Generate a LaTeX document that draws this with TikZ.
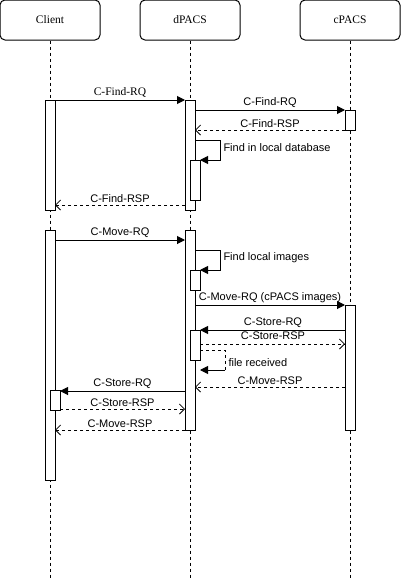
\documentclass[tikz,border=0pt]{standalone}
\usepackage{fontspec}
\setmainfont{Liberation Serif}
\setsansfont{Liberation Sans}
\usetikzlibrary{arrows.meta}
\begin{document}
\begin{tikzpicture}[x=1pt,y=-1pt,line width=1pt,
  actor/.style={draw,rounded corners=5pt,minimum width=100pt,minimum height=40pt,inner sep=0pt,font=\rmfamily\fontsize{11.5}{12}\selectfont},
  life/.style={line width=1pt,dash pattern=on 3pt off 3pt},
  actbar/.style={draw,fill=white,minimum width=10pt,inner sep=0pt,anchor=north},
  lbl/.style={font=\sffamily\fontsize{11}{12}\selectfont,inner sep=1pt},
  sync/.style={-{Triangle[length=8pt,width=8pt]}},
  reply/.style={dashed,dash pattern=on 3pt off 3pt,-{Straight Barb[length=5pt,width=10pt,line width=0.8pt]}},
]
\useasboundingbox (0,0) rectangle (401,581);
% actors
\node[actor] (cl) at (50,20) {Client};
\node[actor] (dp) at (190,20) {dPACS};
\node[actor] (cp) at (350,20) {cPACS};
\coordinate (clend) at (50,578);
\coordinate (dpend) at (190,578);
\coordinate (cpend) at (350,578);
\draw[life] (cl.south) -- (clend);
\draw[life] (dp.south) -- (dpend);
\draw[life] (cp.south) -- (cpend);
% activation bars
\node[actbar,minimum height=110pt] (cb1) at (50,100) {};
\node[actbar,minimum height=110pt] (db1) at (190,100) {};
\node[actbar,minimum height=20pt] (pb1) at (350,110) {};
\node[actbar,minimum height=40pt] (db1n) at (195,160) {};
\node[actbar,minimum height=250pt] (cb2) at (50,230) {};
\node[actbar,minimum height=200pt] (db2) at (190,230) {};
\node[actbar,minimum height=20pt] (db2n) at (195,270) {};
\node[actbar,minimum height=125pt] (pb2) at (350,305) {};
\node[actbar,minimum height=30pt] (db3n) at (195,330) {};
\node[actbar,minimum height=20pt] (cb2n) at (55,390) {};
% group 1
\draw[sync] (55,100) -- (185,100) node[midway,above=1pt,lbl,font=\rmfamily\fontsize{11.5}{12}\selectfont] (m1) {C-Find-RQ};
\draw[sync] (195,110) -- (345,110) node[midway,above=1pt,lbl] (m2) {C-Find-RQ};
\draw[reply] (345,130) -- (195,130) node[midway,above=1pt,lbl] (m3) {C-Find-RSP};
\draw[sync] (195,140) -- (220,140) -- (220,160) -- (200,160);
\node[lbl,anchor=west] (m4) at (222,148) {Find in local database};
\draw[reply] (185,205) -- (55,205) node[midway,above=1pt,lbl] (m5) {C-Find-RSP};
% group 2
\draw[sync] (55,240) -- (185,240) node[midway,above=1pt,lbl] (m6) {C-Move-RQ};
\draw[sync] (195,250) -- (220,250) -- (220,270) -- (200,270);
\node[lbl,anchor=west] (m7) at (222,258) {Find local images};
\draw[sync] (195,305) -- (345,305) node[midway,above=1pt,lbl] (m8) {C-Move-RQ (cPACS images)};
\draw[sync] (345,330) -- (200,330);
\node[lbl,fill=white] (m9) at (273,323) {C-Store-RQ};
\draw[reply] (200,344) -- (345,344);
\node[lbl,fill=white] (m10) at (273,336) {C-Store-RSP};
\draw[dash pattern=on 3pt off 3pt] (200,350) -- (225,350) -- (225,370);
\draw[sync] (225,370) -- (200,370);
\node[lbl,anchor=west] (m11) at (227,363) {file received};
\draw[reply] (345,387) -- (195,387) node[midway,above=1pt,lbl] (m12) {C-Move-RSP};
\draw[sync] (185,391) -- (60,391) node[midway,above=1pt,lbl] (m13) {C-Store-RQ};
\draw[reply] (60,409) -- (185,409) node[midway,above=1pt,lbl] (m14) {C-Store-RSP};
\draw[reply] (185,430) -- (55,430) node[midway,above=1pt,lbl] (m15) {C-Move-RSP};
\end{tikzpicture}
\end{document}
